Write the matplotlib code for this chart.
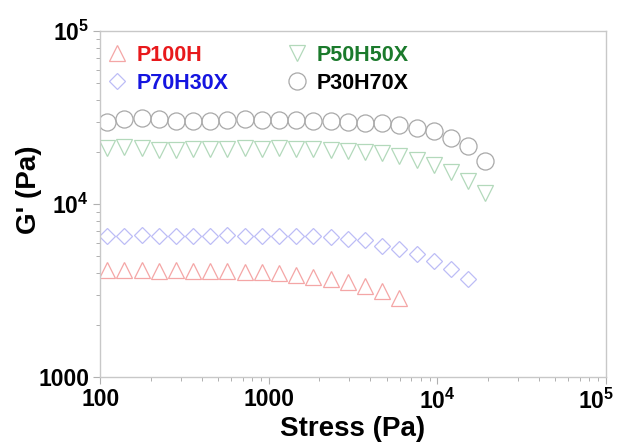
import matplotlib
matplotlib.use("Agg")
import matplotlib.pyplot as plt
from matplotlib.ticker import FixedLocator, FixedFormatter, LogLocator, NullFormatter
from matplotlib.transforms import ScaledTranslation

plt.rcParams['font.family'] = ['Liberation Sans', 'DejaVu Sans']
plt.rcParams['mathtext.fontset'] = 'custom'
plt.rcParams['mathtext.rm'] = 'Liberation Sans:bold'
plt.rcParams['mathtext.bf'] = 'Liberation Sans:bold'

# stress values (Pa), same sweep for every sample
stress = [110, 139, 176, 222, 281, 356, 450, 569, 719, 910, 1151, 1455,
          1841, 2328, 2944, 3724, 4710, 5957, 7534, 9528, 12050, 15240, 19280]

# storage modulus G' (Pa)
g_p100h = [4155, 4155, 4155, 4130, 4150, 4120, 4120, 4117, 4080, 4046, 3981, 3900,
           3800, 3696, 3565, 3367, 3150, 2884]
g_p70h30x = [6590, 6590, 6600, 6590, 6590, 6590, 6590, 6600, 6590, 6590, 6590, 6560,
             6530, 6470, 6340, 6200, 5720, 5520, 5140, 4730, 4230, 3680]
g_p50h50x = [21100, 21400, 21100, 20650, 20700, 20850, 20850, 20850, 21100, 20850, 21000, 20850,
             20850, 20600, 20300, 20050, 19800, 19100, 18100, 16900, 15300, 13600, 11600]
g_p30h70x = [29900, 30900, 31700, 31000, 30300, 30300, 30300, 30600, 30900, 30600, 30600, 30600,
             30300, 30300, 29900, 29600, 29300, 28600, 27600, 26500, 24300, 21600, 17700]

labels = ['P100H', 'P70H30X', 'P50H50X', 'P30H70X']
text_colors = ['#e8191c', '#1515e0', '#1b7a2c', '#000000']

fig = plt.figure(figsize=(6.22, 4.45), dpi=100)
ax = fig.add_axes([0.161, 0.152, 0.813, 0.778])

ax.plot(stress[:len(g_p100h)], g_p100h, linestyle='none', marker='^', ms=12,
        mfc='none', mec='#f4a6a6', mew=0.9, label=labels[0])
ax.plot(stress[:len(g_p70h30x)], g_p70h30x, linestyle='none', marker='D', ms=8.6,
        mfc='none', mec='#bdbdf6', mew=0.9, label=labels[1])
ax.plot(stress, g_p50h50x, linestyle='none', marker='v', ms=12,
        mfc='none', mec='#b3d9bb', mew=0.9, label=labels[2])
ax.plot(stress, g_p30h70x, linestyle='none', marker='o', ms=12.3,
        mfc='none', mec='#a8a8a8', mew=0.9, label=labels[3])

ax.set_xscale('log')
ax.set_yscale('log')
ax.set_xlim(100, 1e5)
ax.set_ylim(1000, 1e5)

ax.xaxis.set_major_locator(FixedLocator([100, 1000, 1e4, 1e5]))
ax.xaxis.set_major_formatter(FixedFormatter(['100', '1000', r'$10^{4}$', r'$10^{5}$']))
ax.yaxis.set_major_locator(FixedLocator([1000, 1e4, 1e5]))
ax.yaxis.set_major_formatter(FixedFormatter(['1000', r'$10^{4}$', r'$10^{5}$']))
for axis in (ax.xaxis, ax.yaxis):
    axis.set_minor_locator(LogLocator(base=10, subs=range(2, 10)))
    axis.set_minor_formatter(NullFormatter())

ax.tick_params(which='major', direction='out', length=5, width=0.8, color='#b0b0b0',
               labelsize=16.5, pad=3)
ax.tick_params(which='minor', direction='out', length=3, width=0.7, color='#b0b0b0')
for lab in ax.get_xticklabels() + ax.get_yticklabels():
    lab.set_fontweight('bold')

# the last x label sits a little left of its tick, as in the original
last = ax.get_xticklabels()[-1]
last.set_transform(last.get_transform() + ScaledTranslation(-0.1, 0, fig.dpi_scale_trans))

for sp in ax.spines.values():
    sp.set_color('#c8c8c8')
    sp.set_linewidth(1.0)

ax.set_xlabel('Stress (Pa)', fontsize=20, fontweight='bold', labelpad=2)
ax.set_ylabel("G' (Pa)", fontsize=20, fontweight='bold')
ax.yaxis.set_label_coords(-0.115, 0.543)

leg = ax.legend(ncol=2, frameon=False, loc='upper left', bbox_to_anchor=(-0.0056, 0.986),
                prop={'weight': 'bold', 'size': 15.5}, handlelength=1.0, handletextpad=0.43,
                columnspacing=2.65, labelspacing=0.34, borderaxespad=0.0)
for txt, c in zip(leg.get_texts(), text_colors):
    txt.set_color(c)

fig.savefig('out.png', dpi=100)
